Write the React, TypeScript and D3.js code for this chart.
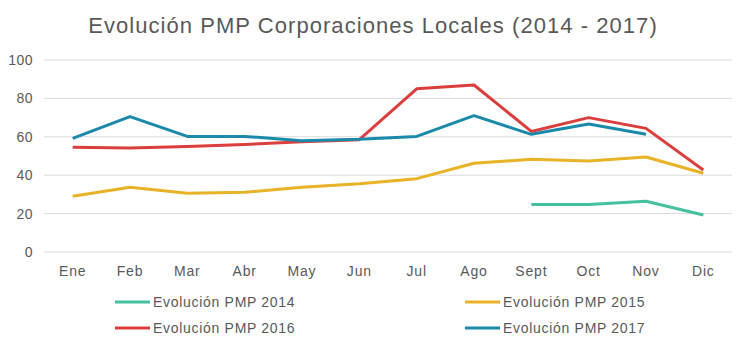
import React, { useEffect, useRef } from "react";
import * as d3 from "d3";

const months = ["Ene", "Feb", "Mar", "Abr", "May", "Jun", "Jul", "Ago", "Sept", "Oct", "Nov", "Dic"];
const yTicks = [0, 20, 40, 60, 80, 100];

const pmp2014 = [null, null, null, null, null, null, null, null, 24.8, 24.8, 26.4, 19.3];
const pmp2015 = [29, 33.7, 30.6, 31.1, 33.7, 35.6, 38.2, 46.2, 48.3, 47.4, 49.5, 41];
const pmp2016 = [54.5, 54.2, 55, 56, 57.4, 58.5, 85, 87, 62.8, 70, 64.4, 42.7];
const pmp2017 = [59.2, 70.5, 60.2, 60.2, 58, 58.7, 60.2, 71, 61.3, 66.7, 61.3, null];

const seriesNames = ["Evolución PMP 2014", "Evolución PMP 2015", "Evolución PMP 2016", "Evolución PMP 2017"];
const seriesColors = ["#45C1A0", "#E8B326", "#DB3F3D", "#1B8AAA"];

const W = 747,
  H = 353;

export default function App() {
  const ref = useRef<SVGSVGElement>(null);

  useEffect(() => {
    const svg = d3.select(ref.current);
    svg.selectAll("*").remove();

    const margin = { left: 44, right: 15, top: 60, bottom: 101 };
    const font = "'Liberation Sans', Arial, sans-serif";

    var x = d3
      .scaleBand()
      .domain(months)
      .range([margin.left, W - margin.right]);
    var y = d3
      .scaleLinear()
      .domain([0, 100])
      .range([H - margin.bottom, margin.top]);

    // title
    svg
      .append("text")
      .attr("x", 373)
      .attr("y", 33)
      .attr("text-anchor", "middle")
      .style("font-family", font)
      .style("font-size", "22px")
      .style("letter-spacing", "1.05px")
      .style("fill", "#595959")
      .text("Evolución PMP Corporaciones Locales (2014 - 2017)");

    // gridlines
    svg
      .selectAll(".grid")
      .data(yTicks)
      .enter()
      .append("line")
      .attr("x1", margin.left)
      .attr("x2", W - margin.right)
      .attr("y1", (d) => y(d))
      .attr("y2", (d) => y(d))
      .style("stroke", "#d9d9d9")
      .style("stroke-width", 1);

    // y labels
    svg
      .selectAll(".ylab")
      .data(yTicks)
      .enter()
      .append("text")
      .attr("x", 33)
      .attr("y", (d) => y(d))
      .attr("dy", "0.35em")
      .attr("text-anchor", "end")
      .style("font-family", font)
      .style("font-size", "14px")
      .style("letter-spacing", "0.5px")
      .style("fill", "#595959")
      .text((d) => d);

    // x labels
    svg
      .selectAll(".xlab")
      .data(months)
      .enter()
      .append("text")
      .attr("x", (d) => (x(d) as number) + x.bandwidth() / 2)
      .attr("y", 276)
      .attr("text-anchor", "middle")
      .style("font-family", font)
      .style("font-size", "14px")
      .style("letter-spacing", "0.8px")
      .style("fill", "#595959")
      .text((d) => d);

    const allSeries = [pmp2014, pmp2015, pmp2016, pmp2017];
    var line = d3
      .line<any>()
      .defined((d) => d != null)
      .x((d, i) => (x(months[i]) as number) + x.bandwidth() / 2)
      .y((d) => y(d));

    allSeries.forEach((s, k) => {
      svg
        .append("path")
        .attr("d", line(s as any))
        .style("fill", "none")
        .style("stroke", seriesColors[k])
        .style("stroke-width", 3)
        .style("stroke-linejoin", "round");
    });

    // legend
    const legendPos = [
      [115, 302],
      [465, 302],
      [115, 328],
      [465, 328],
    ];
    seriesNames.forEach((name, k) => {
      const [lx, ly] = legendPos[k];
      svg
        .append("line")
        .attr("x1", lx)
        .attr("x2", lx + 35)
        .attr("y1", ly)
        .attr("y2", ly)
        .style("stroke", seriesColors[k])
        .style("stroke-width", 3);
      svg
        .append("text")
        .attr("x", lx + 38)
        .attr("y", ly)
        .attr("dy", "0.35em")
        .style("font-family", font)
        .style("font-size", "14px")
        .style("letter-spacing", "0.7px")
        .style("fill", "#595959")
        .text(name);
    });
  }, []);

  return (
    <svg
      ref={ref}
      width={W}
      height={H}
      style={{ position: "absolute", left: 0, top: 0, background: "#fff" }}
    />
  );
}
